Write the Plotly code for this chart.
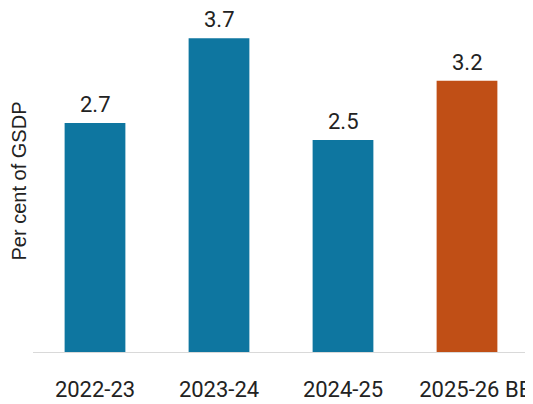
import plotly.graph_objects as go

years = ["2022-23", "2023-24", "2024-25", "2025-26 BE"]
values = [2.7, 3.7, 2.5, 3.2]
colours = ["#0e76a0", "#0e76a0", "#0e76a0", "#c04f16"]
# last label sits a bit right of its bar in the original, pad it on the left
tick_text = ["2022-23", "2023-24", "2024-25", "\u00a0\u00a0\u00a02025-26 BE"]

fig = go.Figure(go.Bar(
    x=years, y=values,
    marker=dict(color=colours, line=dict(width=0)),
    width=0.49,
))

# value labels above each bar
for yr, v in zip(years, values):
    fig.add_annotation(
        x=yr, y=v, text=f"{v:.1f}", showarrow=False,
        yanchor="bottom", yshift=4,
        font=dict(family="Roboto", size=22, color="#222222"),
    )

# page has an 8px body offset, so the figure is a little smaller than the window
fig.update_layout(
    width=525, height=396,
    margin=dict(l=25, r=4, t=2, b=39),
    paper_bgcolor="white", plot_bgcolor="white",
    font=dict(family="Roboto", size=22, color="#222222"),
    showlegend=False,
)
fig.update_xaxes(
    showline=True, linecolor="#d9d9d9", linewidth=1,
    showgrid=False, ticks="", ticklabelstandoff=18,
    tickvals=years, ticktext=tick_text,
    tickfont=dict(family="Roboto", size=22, color="#222222"),
)
fig.update_yaxes(
    range=[0, 4.034], showgrid=False, zeroline=False,
    showticklabels=False, ticks="",
    title=dict(text="Per cent of GSDP", standoff=7,
               font=dict(family="Liberation Sans", size=20, color="#222222")),
)

fig.write_html("out.html")
